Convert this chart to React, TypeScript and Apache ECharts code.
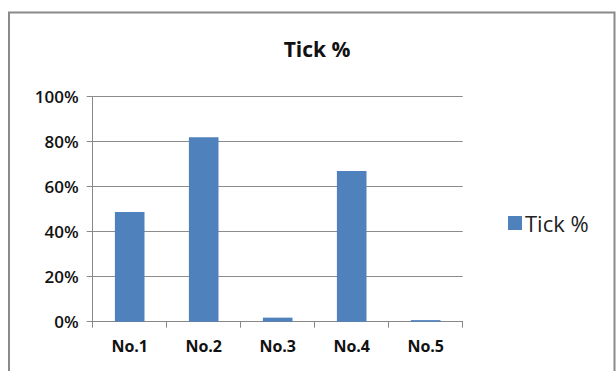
import React, { useEffect, useRef } from "react";
import * as echarts from "echarts";

const categories = ["No.1", "No.2", "No.3", "No.4", "No.5"];
const tickPct = [48.8, 82, 1.8, 67, 0.7];
const yTicks = [0, 20, 40, 60, 80, 100];
const seriesName = "Tick %";
const titleText = "Tick %";

export default function App() {
  const ref = useRef<HTMLDivElement>(null);
  useEffect(() => {
    document.body.style.margin = "0";
    const chart = echarts.init(ref.current!, null, { renderer: "svg" });
    const font = "'Open Sans', 'Noto Sans', sans-serif";
    chart.setOption({
      animation: false,
      backgroundColor: "#ffffff",
      title: {
        text: titleText,
        left: 312,
        textAlign: "center",
        top: 33,
        textStyle: { fontFamily: font, fontSize: 21, fontWeight: "bold", color: "#111" },
      },
      legend: {
        data: [seriesName],
        left: 503,
        top: 207,
        itemWidth: 14,
        itemHeight: 14,
        itemGap: 6,
        icon: "rect",
        textStyle: { fontFamily: font, fontSize: 22, color: "#222", padding: [0, 0, 0, -2] },
      },
      graphic: [
        {
          type: "rect",
          shape: { x: 9, y: 12.5, width: 605.5, height: 380 },
          style: { fill: "none", stroke: "#8a8a8a", lineWidth: 2 },
          silent: true,
        },
      ],
      grid: { left: 92.7, right: 153.3, top: 96.7, bottom: 49.3 },
      xAxis: {
        type: "category",
        data: categories,
        boundaryGap: true,
        axisLine: { lineStyle: { color: "#888", width: 1 } },
        axisTick: { show: true, length: 6, lineStyle: { color: "#888" } },
        axisLabel: {
          fontFamily: font,
          fontSize: 16,
          fontWeight: "bold",
          color: "#111",
          margin: 16,
        },
      },
      yAxis: {
        type: "value",
        min: yTicks[0],
        max: yTicks[yTicks.length - 1],
        interval: 20,
        axisLine: { show: true, lineStyle: { color: "#888", width: 1 } },
        axisTick: { show: true, length: 6, lineStyle: { color: "#888" } },
        splitLine: { lineStyle: { color: "#8c8c8c", width: 1 } },
        axisLabel: {
          fontFamily: font,
          fontSize: 17,
          fontWeight: 600,
          color: "#111",
          margin: 14,
          formatter: (v: number) => v + "%",
        },
      },
      series: [
        {
          name: seriesName,
          type: "bar",
          data: tickPct,
          barWidth: "40%",
          itemStyle: { color: "#4F81BD" },
        },
      ],
    });
    return () => chart.dispose();
  }, []);
  return <div ref={ref} style={{ width: 616, height: 371 }} />;
}
